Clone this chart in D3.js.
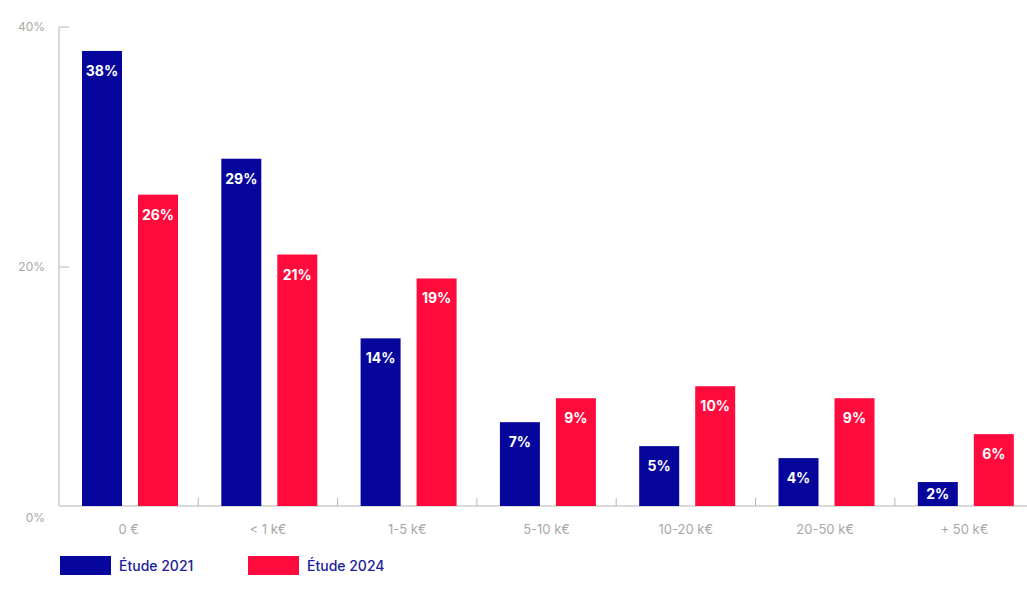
<!DOCTYPE html>
<html>
<head>
<meta charset="utf-8">
<script src="https://cdn.jsdelivr.net/npm/d3@7"></script>
<style>
  body { margin: 0; background: #fff; }
  .axis path, .axis line { stroke: #b5b5b5; }
  .axis text { fill: #a8a8a8; font-family: Inter, sans-serif; font-size: 13px; }
  .y.axis text { font-size: 12px; }
</style>
</head>
<body>
<div class="chart"></div>
<script>
const categories = ["0 €", "< 1 k€", "1-5 k€", "5-10 k€", "10-20 k€", "20-50 k€", "+ 50 k€"];
const series = ["Étude 2021", "Étude 2024"];
const values2021 = [38, 29, 14, 7, 5, 4, 2];
const values2024 = [26, 21, 19, 9, 10, 9, 6];
const yTicks = [0, 20, 40];
const colors = ["#06069c", "#fe0a3c"];

const width = 1027, height = 595;
const plotLeft = 59, plotTop = 27, plotBottom = 506;

const svg = d3.select(".chart").append("svg")
    .attr("width", width)
    .attr("height", height);

const x = d3.scaleBand().domain(categories).range([plotLeft, plotLeft + 7 * 139.3]);
const xSeries = d3.scaleBand().domain(series).range([23, 119]).paddingInner(16 / 56);
const y = d3.scaleLinear().domain([0, 40]).range([plotBottom, plotTop]);

// y axis, ticks pointing inward
const yAxis = svg.append("g").attr("class", "y axis")
    .attr("transform", "translate(" + plotLeft + ",0)")
    .call(d3.axisLeft(y).tickValues(yTicks).tickSizeInner(-10).tickSizeOuter(0).tickPadding(14)
        .tickFormat(d => d + "%"));
yAxis.select(".domain").attr("d", "M0," + plotBottom + "V" + plotTop + "H10");
yAxis.selectAll(".tick").filter(d => d === 0).select("text").attr("dy", "1.3em");
yAxis.selectAll(".tick").filter(d => d === 0).select("line").remove();
yAxis.selectAll(".tick").filter(d => d === 40).select("line").remove();

// x axis baseline + boundary ticks
const xAxis = svg.append("g").attr("class", "x axis")
    .attr("transform", "translate(0," + plotBottom + ")")
    .call(d3.axisBottom(x).tickSize(0).tickPadding(19));
xAxis.select(".domain").attr("d", "M" + plotLeft + ",0H" + width);
xAxis.selectAll(".boundary")
    .data(categories.slice(1))
    .enter().append("line")
    .attr("x1", d => x(d)).attr("x2", d => x(d))
    .attr("y1", 0).attr("y2", -8)
    .attr("stroke", "#b5b5b5");

// bars
const rows = categories.map((c, i) => ({ cat: c, vals: [values2021[i], values2024[i]] }));
const groups = svg.selectAll("g.group").data(rows).enter().append("g")
    .attr("class", "group")
    .attr("transform", d => "translate(" + x(d.cat) + ",0)");

const bars = groups.selectAll("g.bar")
    .data(d => d.vals.map((v, j) => ({ s: series[j], v: v, j: j })))
    .enter().append("g").attr("class", "bar");

bars.append("rect")
    .attr("x", d => xSeries(d.s))
    .attr("y", d => y(d.v))
    .attr("width", xSeries.bandwidth())
    .attr("height", d => plotBottom - y(d.v))
    .attr("fill", d => colors[d.j]);

// label near the top of the bar, or centred when the bar is short
bars.append("text")
    .attr("x", d => xSeries(d.s) + xSeries.bandwidth() / 2)
    .attr("y", d => Math.min(y(d.v) + 25, (y(d.v) + plotBottom) / 2 + 5))
    .attr("text-anchor", "middle")
    .attr("fill", "#fff")
    .style("font-family", "Inter, sans-serif")
    .style("font-weight", "700")
    .style("font-size", "14px")
    .text(d => d.v + "%");

// legend
const legend = svg.selectAll("g.legend").data(series).enter().append("g")
    .attr("class", "legend")
    .attr("transform", (d, i) => "translate(" + (60 + i * 188) + ",556)");
legend.append("rect").attr("width", 51).attr("height", 19).attr("fill", (d, i) => colors[i]);
legend.append("text")
    .attr("x", 59).attr("y", 15)
    .attr("fill", "#20209a")
    .style("font-family", "Inter, sans-serif")
    .style("font-size", "14px")
    .style("font-weight", "500")
    .text(d => d);
</script>
</body>
</html>
